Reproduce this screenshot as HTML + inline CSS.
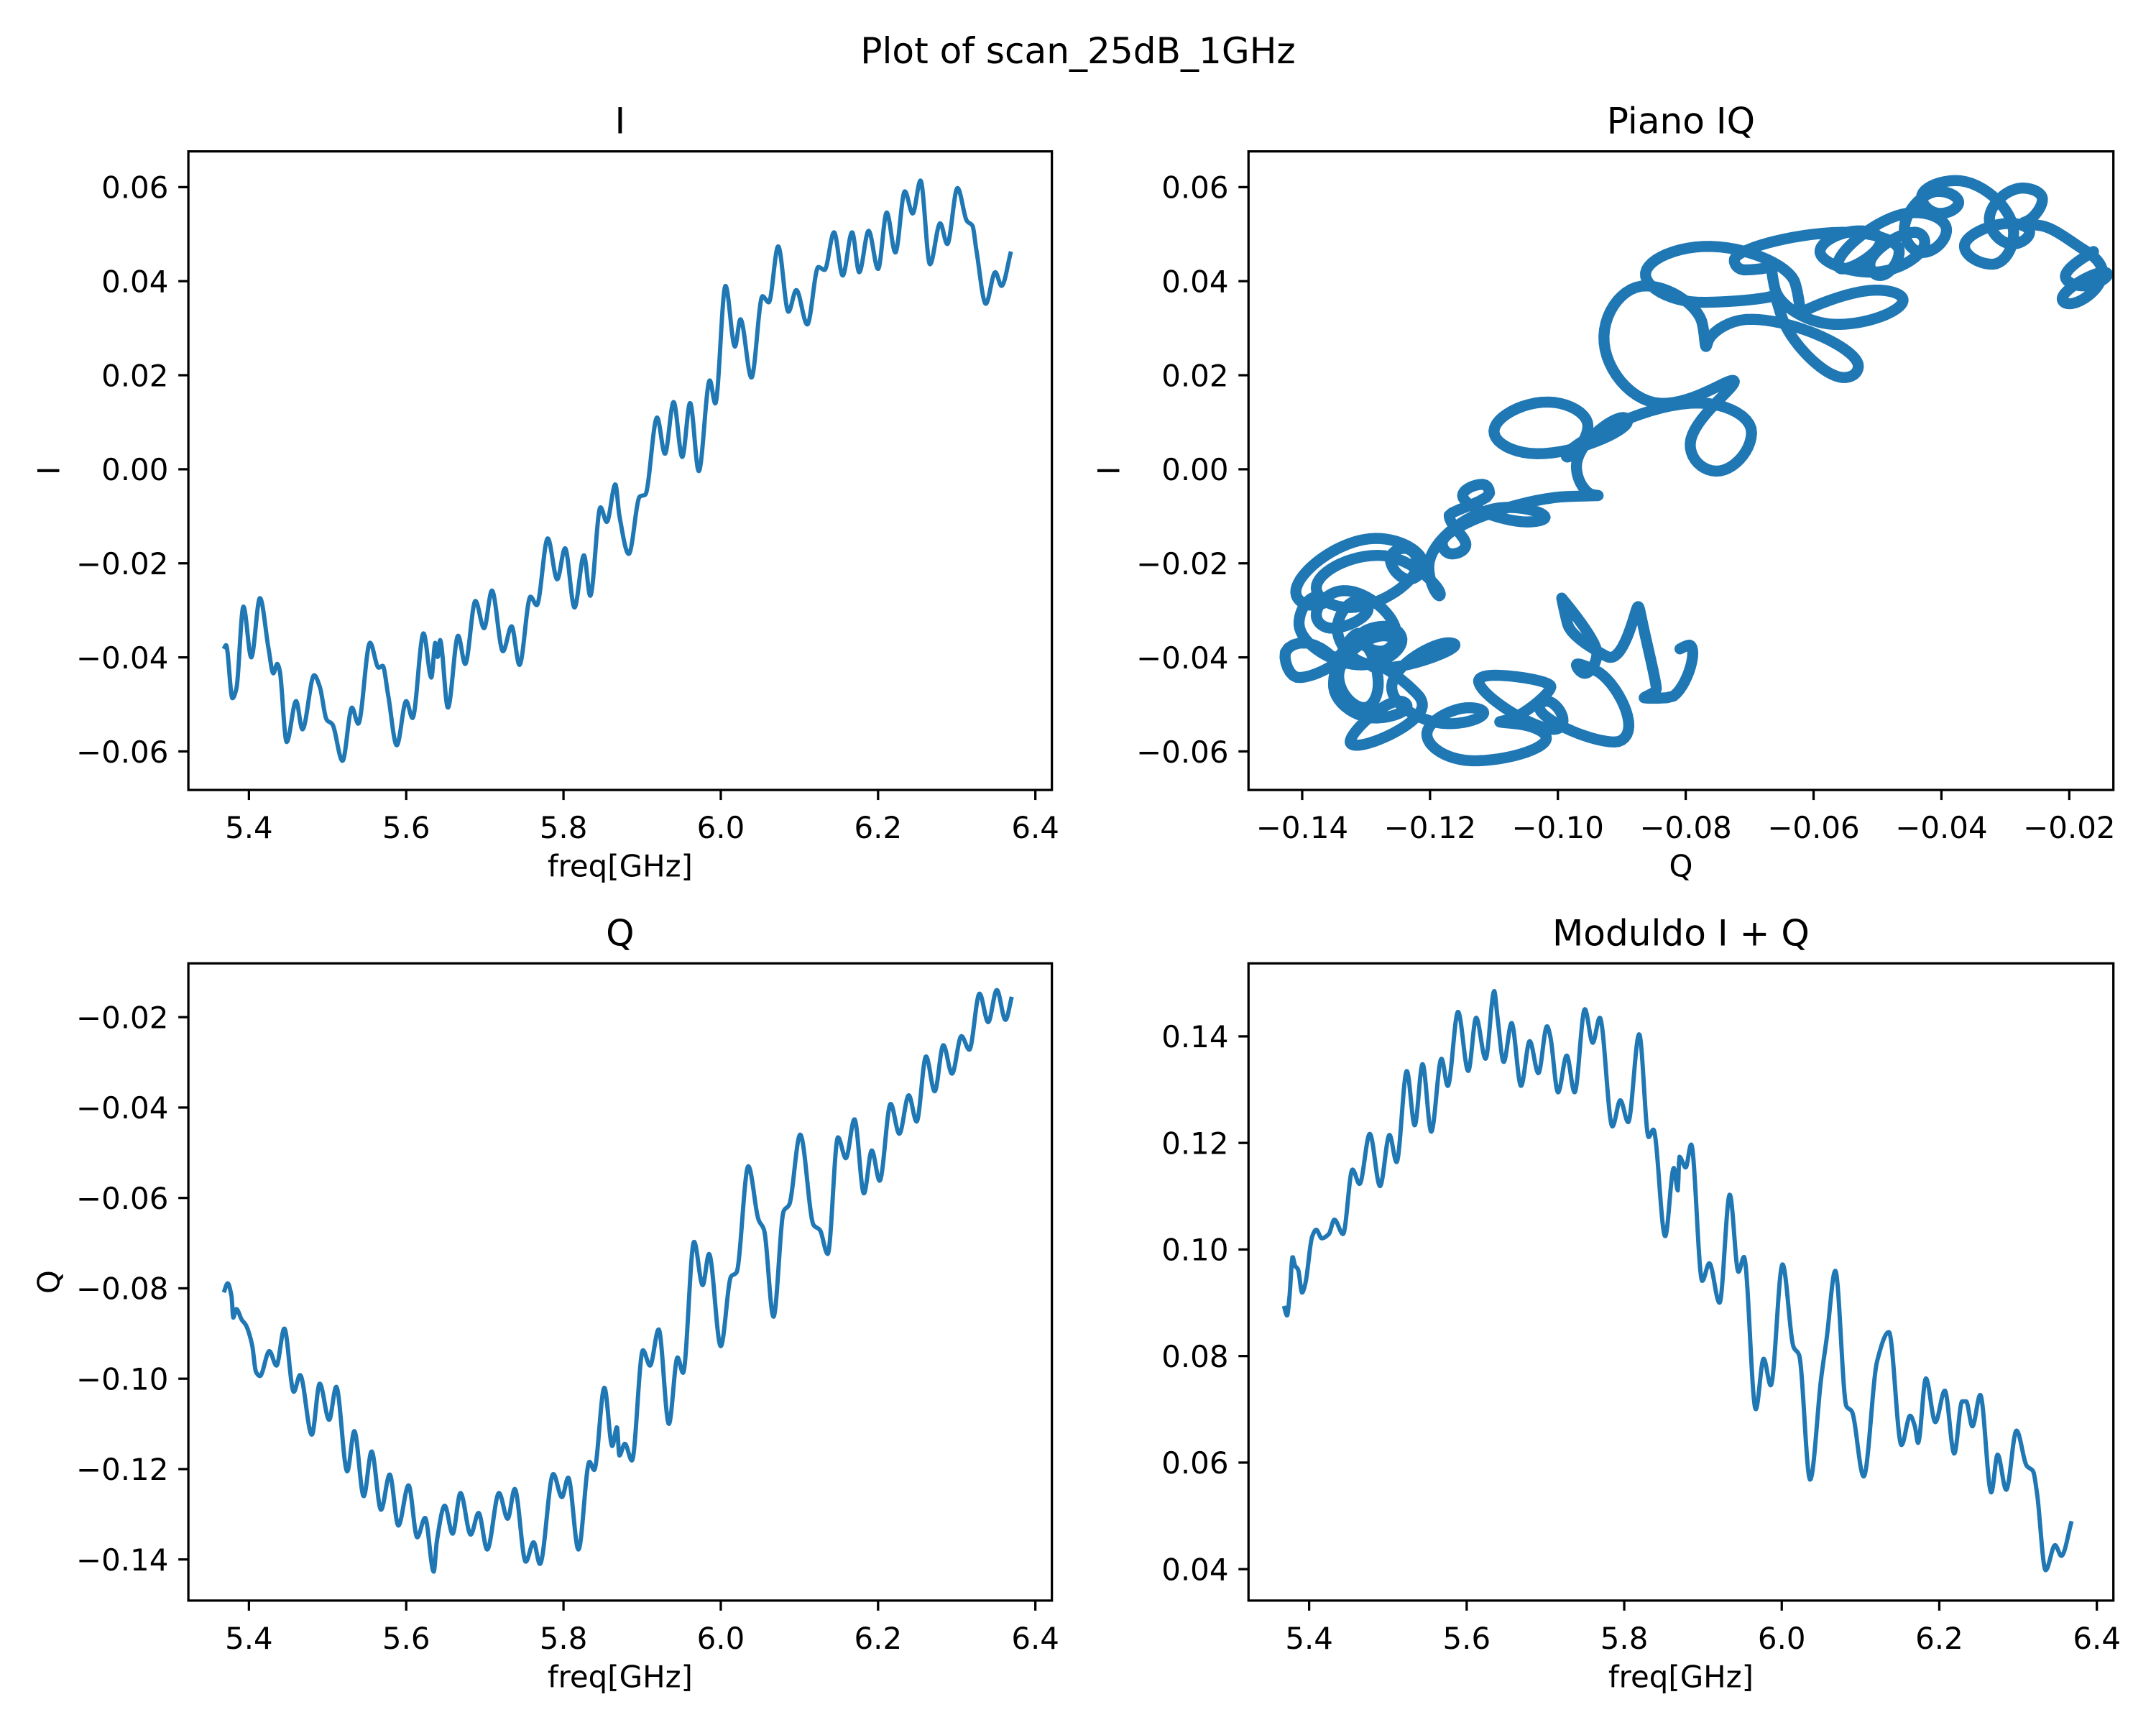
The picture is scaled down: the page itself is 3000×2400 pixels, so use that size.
<!DOCTYPE html>
<html><head><meta charset="utf-8"><style>
html,body{margin:0;padding:0;background:#fff;}
svg{display:block;}
text{font-family:"DejaVu Sans","Liberation Sans",sans-serif;fill:#000;}
</style></head>
<body>
<svg id="fig" width="3000" height="2400" viewBox="0 0 1568 1253.4" preserveAspectRatio="none" xmlns="http://www.w3.org/2000/svg">
<rect width="1570" height="1260" fill="#fff"/>
<text x="784" y="46" font-size="26.2" text-anchor="middle">Plot of scan_25dB_1GHz</text>
</svg>
<script>
// ---- data ----
const iFreq=[5.368,5.371,5.379,5.384,5.393,5.403,5.414,5.425,5.431,5.436,5.439,5.448,5.460,5.468,5.483,5.490,5.499,5.506,5.519,5.531,5.539,5.554,5.565,5.570,5.577,5.588,5.600,5.608,5.622,5.632,5.637,5.640,5.643,5.653,5.666,5.675,5.688,5.699,5.709,5.723,5.734,5.744,5.758,5.766,5.780,5.792,5.802,5.814,5.826,5.834,5.847,5.855,5.866,5.871,5.883,5.897,5.904,5.919,5.929,5.940,5.951,5.961,5.972,5.986,5.993,6.006,6.018,6.025,6.039,6.053,6.061,6.073,6.086,6.096,6.110,6.124,6.132,6.144,6.155,6.167,6.176,6.188,6.200,6.211,6.222,6.234,6.244,6.254,6.266,6.279,6.288,6.301,6.313,6.320,6.325,6.337,6.349,6.357,6.369];
const iVals=[-0.0382,-0.0374,-0.0487,-0.0467,-0.0292,-0.0400,-0.0274,-0.0382,-0.0434,-0.0414,-0.0427,-0.0580,-0.0493,-0.0553,-0.0438,-0.0462,-0.0533,-0.0542,-0.0620,-0.0507,-0.0541,-0.0369,-0.0422,-0.0418,-0.0480,-0.0587,-0.0493,-0.0529,-0.0349,-0.0443,-0.0369,-0.0400,-0.0363,-0.0507,-0.0354,-0.0414,-0.0280,-0.0338,-0.0258,-0.0387,-0.0334,-0.0416,-0.0271,-0.0289,-0.0147,-0.0234,-0.0168,-0.0294,-0.0183,-0.0269,-0.0081,-0.0112,-0.0032,-0.0098,-0.0180,-0.0058,-0.0054,0.0110,0.0033,0.0143,0.0026,0.0141,-0.0004,0.0189,0.0140,0.0390,0.0261,0.0319,0.0195,0.0368,0.0355,0.0474,0.0335,0.0381,0.0308,0.0430,0.0424,0.0504,0.0412,0.0504,0.0419,0.0507,0.0426,0.0546,0.0461,0.0591,0.0544,0.0614,0.0436,0.0523,0.0479,0.0598,0.0528,0.0518,0.0466,0.0352,0.0419,0.0390,0.0463];
const qFreq=[5.368,5.373,5.378,5.380,5.384,5.391,5.396,5.404,5.409,5.414,5.426,5.435,5.445,5.457,5.465,5.480,5.490,5.502,5.511,5.525,5.534,5.546,5.556,5.568,5.579,5.590,5.603,5.614,5.624,5.635,5.639,5.649,5.659,5.669,5.682,5.692,5.703,5.718,5.729,5.738,5.752,5.762,5.770,5.787,5.798,5.806,5.819,5.833,5.839,5.852,5.862,5.868,5.871,5.878,5.887,5.901,5.910,5.921,5.934,5.945,5.952,5.966,5.977,5.985,6.000,6.013,6.020,6.035,6.048,6.055,6.067,6.080,6.087,6.101,6.118,6.126,6.136,6.149,6.159,6.170,6.182,6.192,6.202,6.216,6.227,6.239,6.249,6.261,6.272,6.283,6.294,6.306,6.316,6.329,6.340,6.351,6.362,6.370];
const qVals=[-0.0809,-0.0789,-0.0819,-0.0865,-0.0846,-0.0870,-0.0881,-0.0925,-0.0985,-0.0994,-0.0939,-0.0971,-0.0889,-0.1029,-0.0992,-0.1124,-0.1011,-0.1091,-0.1018,-0.1205,-0.1116,-0.1260,-0.1161,-0.1290,-0.1212,-0.1325,-0.1236,-0.1351,-0.1308,-0.1427,-0.1359,-0.1281,-0.1343,-0.1253,-0.1345,-0.1297,-0.1378,-0.1253,-0.1310,-0.1244,-0.1405,-0.1362,-0.1410,-0.1211,-0.1262,-0.1219,-0.1378,-0.1184,-0.1202,-0.1020,-0.1149,-0.1107,-0.1170,-0.1144,-0.1181,-0.0937,-0.0971,-0.0891,-0.1100,-0.0953,-0.0987,-0.0697,-0.0793,-0.0724,-0.0928,-0.0774,-0.0765,-0.0530,-0.0648,-0.0671,-0.0863,-0.0629,-0.0615,-0.0460,-0.0660,-0.0671,-0.0724,-0.0466,-0.0512,-0.0426,-0.0590,-0.0495,-0.0562,-0.0392,-0.0458,-0.0373,-0.0431,-0.0287,-0.0364,-0.0262,-0.0325,-0.0242,-0.0272,-0.0148,-0.0211,-0.0140,-0.0206,-0.0155];
const mFreq=[5.368,5.372,5.375,5.379,5.382,5.386,5.391,5.395,5.404,5.409,5.416,5.425,5.432,5.443,5.455,5.464,5.477,5.490,5.502,5.511,5.524,5.534,5.544,5.555,5.568,5.576,5.589,5.602,5.612,5.624,5.635,5.639,5.647,5.657,5.669,5.680,5.691,5.702,5.706,5.716,5.727,5.737,5.750,5.760,5.769,5.785,5.795,5.805,5.819,5.831,5.837,5.852,5.863,5.868,5.870,5.878,5.885,5.899,5.908,5.921,5.934,5.945,5.952,5.967,5.977,5.986,6.001,6.015,6.022,6.036,6.050,6.057,6.068,6.082,6.089,6.104,6.121,6.136,6.152,6.163,6.169,6.173,6.183,6.195,6.207,6.219,6.229,6.234,6.242,6.252,6.266,6.274,6.285,6.298,6.311,6.319,6.324,6.335,6.347,6.355,6.368];
const mVals=[0.0894,0.0876,0.0911,0.0986,0.0970,0.0962,0.0919,0.0935,0.1025,0.1037,0.1021,0.1029,0.1056,0.1029,0.1150,0.1123,0.1217,0.1119,0.1215,0.1164,0.1335,0.1233,0.1348,0.1221,0.1358,0.1307,0.1446,0.1335,0.1435,0.1358,0.1485,0.1437,0.1352,0.1425,0.1307,0.1391,0.1331,0.1419,0.1401,0.1295,0.1364,0.1295,0.1451,0.1388,0.1435,0.1231,0.1280,0.1239,0.1404,0.1211,0.1225,0.1025,0.1153,0.1111,0.1174,0.1154,0.1197,0.0941,0.0974,0.0900,0.1103,0.0958,0.0986,0.0700,0.0795,0.0745,0.0972,0.0817,0.0802,0.0568,0.0758,0.0833,0.0960,0.0706,0.0696,0.0574,0.0790,0.0845,0.0633,0.0688,0.0668,0.0637,0.0758,0.0676,0.0735,0.0617,0.0715,0.0715,0.0668,0.0727,0.0544,0.0615,0.0549,0.0660,0.0594,0.0584,0.0543,0.0398,0.0445,0.0425,0.0490];
const freqTicks=[5.4,5.6,5.8,6.0,6.2,6.4];
const freqTickLabels=["5.4","5.6","5.8","6.0","6.2","6.4"];
const iTicks=[-0.06,-0.04,-0.02,0,0.02,0.04,0.06];
const iTickLabels=["\u22120.06","\u22120.04","\u22120.02","0.00","0.02","0.04","0.06"];
const qTicks=[-0.14,-0.12,-0.10,-0.08,-0.06,-0.04,-0.02];
const qTickLabels=["\u22120.14","\u22120.12","\u22120.10","\u22120.08","\u22120.06","\u22120.04","\u22120.02"];
const mTicks=[0.04,0.06,0.08,0.10,0.12,0.14];
const mTickLabels=["0.04","0.06","0.08","0.10","0.12","0.14"];

const NS="http://www.w3.org/2000/svg";
const fig=document.getElementById('fig');
const C="#1f77b4";
function mk(tag,attrs,parent){const e=document.createElementNS(NS,tag);for(const k in attrs)e.setAttribute(k,attrs[k]);(parent||fig).appendChild(e);return e;}
function interp(xs,ys,x){
  let n=xs.length;if(x<=xs[0])return ys[0];if(x>=xs[n-1])return ys[n-1];
  let i=0;while(i<n-2&&xs[i+1]<x)i++;
  const h=xs[i+1]-xs[i],t=(x-xs[i])/h;
  const slope=(a,b)=>(ys[b]-ys[a])/(xs[b]-xs[a]);
  const d=(k)=>{if(k===0)return slope(0,1);if(k===n-1)return slope(n-2,n-1);const s1=slope(k-1,k),s2=slope(k,k+1);if(s1*s2<=0)return 0;return 2/(1/s1+1/s2);};
  const m0=d(i)*h,m1=d(i+1)*h,t2=t*t,t3=t2*t;
  return (2*t3-3*t2+1)*ys[i]+(t3-2*t2+t)*m0+(-2*t3+3*t2)*ys[i+1]+(t3-t2)*m1;
}
function axes(name,L,T,R,B,xmin,xmax,ymin,ymax,xt,xtl,yt,ytl,title,xlabel,ylabel){
  const g=mk('g',{});
  
  
  const sx=v=>L+(v-xmin)/(xmax-xmin)*(R-L);
  const sy=v=>B-(v-ymin)/(ymax-ymin)*(B-T);
  xt.forEach((v,k)=>{const x=sx(v);
    const tk=mk('line',{x1:x,x2:x,y1:B,y2:B+7.3,stroke:'#000','stroke-width':1.7},g);
    
    
    const t=mk('text',{x:x,y:B+35,'font-size':21.9,'text-anchor':'middle'},g);t.textContent=xtl[k];
    
    });
  yt.forEach((v,k)=>{const y=sy(v);
    const tk=mk('line',{x1:L-7.3,x2:L,y1:y,y2:y,stroke:'#000','stroke-width':1.7},g);
    
    
    const t=mk('text',{x:L-14.5,y:y+8,'font-size':21.9,'text-anchor':'end'},g);t.textContent=ytl[k];
    
    });
  const tt=mk('text',{x:(L+R)/2,y:T-13,'font-size':26.2,'text-anchor':'middle'},g);tt.textContent=title;
  
  
  const xl=mk('text',{x:(L+R)/2,y:B+63,'font-size':21.9,'text-anchor':'middle'},g);xl.textContent=xlabel;
  
  
  if(ylabel){const yl=mk('text',{x:0,y:0,'font-size':21.9,'text-anchor':'middle',transform:`translate(${L-94},${(T+B)/2}) rotate(-90)`},g);yl.textContent=ylabel;
    
    }
  return {g,sx,sy,L,T,R,B};
}
function frame(a){const r=mk('rect',{x:a.L,y:a.T,width:a.R-a.L,height:a.B-a.T,fill:'none',stroke:'#000','stroke-width':1.7},a.g);
  
  }
function lineSeries(a,xs,ys,name){
  let d='';const N=1400,x0=xs[0],x1=xs[xs.length-1];
  for(let k=0;k<=N;k++){const x=x0+(x1-x0)*k/N;d+=(k?'L':'M')+a.sx(x).toFixed(2)+','+a.sy(interp(xs,ys,x)).toFixed(2);}
  const p=mk('path',{d:d,fill:'none',stroke:C,'stroke-width':3.1,'stroke-linejoin':'round'},a.g);
  
  
}
// I vs freq
const a1=axes('i-vs-freq-axes',137,110,765,574,5.323,6.421,-0.0682,0.0676,freqTicks,freqTickLabels,iTicks,iTickLabels,'I','freq[GHz]','I');
lineSeries(a1,iFreq,iVals,'i-series-line');frame(a1);
// IQ plane
const a2=axes('iq-plane-axes',908,110,1537,574,-0.1484,-0.0131,-0.0682,0.0676,[-0.14,-0.12,-0.10,-0.08,-0.06,-0.04,-0.02],["\u22120.14","\u22120.12","\u22120.10","\u22120.08","\u22120.06","\u22120.04","\u22120.02"],iTicks,iTickLabels,'Piano IQ','Q','I');
(function(){
  const f0=Math.max(iFreq[0],qFreq[0]),f1=Math.min(iFreq[iFreq.length-1],qFreq[qFreq.length-1]);
  let d='';const N=2000;
  for(let k=0;k<=N;k++){const f=f0+(f1-f0)*k/N;d+=(k?'L':'M')+a2.sx(interp(qFreq,qVals,f)).toFixed(2)+','+a2.sy(interp(iFreq,iVals,f)).toFixed(2);}
  const p=mk('path',{d:d,fill:'none',stroke:C,'stroke-width':8,'stroke-linejoin':'round','stroke-linecap':'round'},a2.g);
  
  
})();
frame(a2);
// Q vs freq
const a3=axes('q-vs-freq-axes',137,700,765,1163,5.323,6.421,-0.1491,-0.0081,freqTicks,freqTickLabels,qTicks,qTickLabels,'Q','freq[GHz]','Q');
lineSeries(a3,qFreq,qVals,'q-series-line');frame(a3);
// Modulus
const a4=axes('modulus-axes',908,700,1537,1163,5.323,6.421,0.0341,0.1537,freqTicks,freqTickLabels,mTicks,mTickLabels,'Moduldo I + Q','freq[GHz]','');
lineSeries(a4,mFreq,mVals,'modulus-series-line');frame(a4);
</script>
</body></html>
